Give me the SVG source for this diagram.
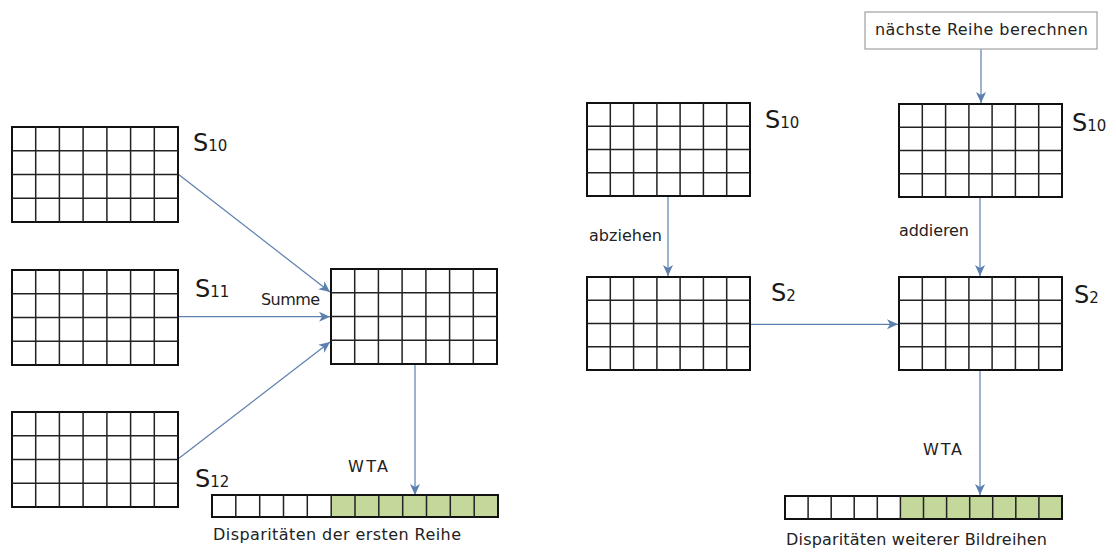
<svg xmlns="http://www.w3.org/2000/svg" xmlns:xlink="http://www.w3.org/1999/xlink" width="1116" height="552" viewBox="0 0 1116 552">
<style>
.t{font-family:"DejaVu Sans","Liberation Sans",sans-serif;font-size:16px;fill:#222}
.s{font-family:"DejaVu Sans","Liberation Sans",sans-serif;font-size:24px;fill:#1a1a1a}
.sub{font-size:15px}
.frame{fill:#fff;stroke:#111;stroke-width:2}
.in{stroke:#222;stroke-width:1.5;fill:none}
.con{stroke:#5b7fae;stroke-width:1.2;fill:none;marker-end:url(#ah)}
.green{fill:#c4d89c}
</style>
<defs>
<marker id="ah" markerUnits="userSpaceOnUse" markerWidth="12" markerHeight="12" viewBox="0 0 12 12" refX="11" refY="6" orient="auto">
<path d="M0,1 L11,6 L0,11 L3,6 Z" fill="#5b7fae"/>
</marker>
<g id="gridL">
<rect class="frame" x="0" y="0" width="166" height="95"/>
<path class="in" d="M23.7,0V95M47.4,0V95M71.1,0V95M94.9,0V95M118.6,0V95M142.3,0V95M0,23.75H166M0,47.5H166M0,71.25H166"/>
</g>
<g id="gridR">
<rect class="frame" x="0" y="0" width="163" height="93"/>
<path class="in" d="M23.3,0V93M46.6,0V93M69.9,0V93M93.1,0V93M116.4,0V93M139.7,0V93M0,23.25H163M0,46.5H163M0,69.75H163"/>
</g>
</defs>
<rect width="1116" height="552" fill="#fff"/>

<g id="connectors">
<line class="con" x1="178" y1="174" x2="330" y2="292"/>
<line class="con" x1="178" y1="316.7" x2="330" y2="316.7"/>
<line class="con" x1="178" y1="459" x2="330" y2="342"/>
<line class="con" x1="415" y1="365" x2="415" y2="495"/>
<line class="con" x1="981" y1="49" x2="981" y2="103"/>
<line class="con" x1="668" y1="196" x2="668" y2="276"/>
<line class="con" x1="980" y1="196" x2="980" y2="276"/>
<line class="con" x1="749" y1="324.3" x2="898" y2="324.3"/>
<line class="con" x1="980" y1="370" x2="980" y2="495"/>
</g>

<g id="s10-left">
<use xlink:href="#gridL" x="12" y="127"/>
<text class="s" x="193" y="151">S<tspan class="sub">10</tspan></text>
</g>
<g id="s11-left">
<use xlink:href="#gridL" x="12" y="270"/>
<text class="s" x="195" y="297">S<tspan class="sub">11</tspan></text>
</g>
<g id="s12-left">
<use xlink:href="#gridL" x="12" y="412"/>
<text class="s" x="195" y="487">S<tspan class="sub">12</tspan></text>
</g>
<g id="sum-grid">
<use xlink:href="#gridL" x="331" y="269"/>
<text class="t" x="261" y="305" textLength="59">Summe</text>
</g>
<g id="disp-first">
<rect class="green" x="331.2" y="495" width="166.8" height="22"/>
<rect x="212" y="495" width="286" height="22" fill="none" stroke="#111" stroke-width="2"/>
<path class="in" d="M235.8,495V517M259.7,495V517M283.5,495V517M307.3,495V517M331.2,495V517M355,495V517M378.8,495V517M402.7,495V517M426.5,495V517M450.3,495V517M474.2,495V517"/>
<text class="t" x="348" y="472" textLength="40">WTA</text>
<text class="t" x="213" y="540" textLength="248">Disparitäten der ersten Reihe</text>
</g>

<g id="next-row">
<rect x="865" y="12" width="232" height="37" fill="#fff" stroke="#a0a0a0" stroke-width="1.2"/>
<text class="t" x="875" y="35" textLength="213">nächste Reihe berechnen</text>
</g>
<g id="s10-mid">
<use xlink:href="#gridR" x="587" y="103"/>
<text class="s" x="765" y="128">S<tspan class="sub">10</tspan></text>
<text class="t" x="589" y="241" textLength="73">abziehen</text>
</g>
<g id="s2-mid">
<use xlink:href="#gridR" x="587" y="277"/>
<text class="s" x="771" y="301">S<tspan class="sub">2</tspan></text>
</g>
<g id="s10-right">
<use xlink:href="#gridR" x="899" y="104"/>
<text class="s" x="1072" y="131">S<tspan class="sub">10</tspan></text>
<text class="t" x="899" y="236" textLength="70">addieren</text>
</g>
<g id="s2-right">
<use xlink:href="#gridR" x="899" y="277"/>
<text class="s" x="1074" y="303">S<tspan class="sub">2</tspan></text>
</g>
<g id="disp-further">
<rect class="green" x="900.4" y="496" width="161.6" height="23"/>
<rect x="785" y="496" width="277" height="23" fill="none" stroke="#111" stroke-width="2"/>
<path class="in" d="M808.1,496V519M831.2,496V519M854.2,496V519M877.3,496V519M900.4,496V519M923.5,496V519M946.6,496V519M969.7,496V519M992.7,496V519M1015.8,496V519M1038.9,496V519"/>
<text class="t" x="923" y="455" textLength="39">WTA</text>
<text class="t" x="786" y="545" textLength="261">Disparitäten weiterer Bildreihen</text>
</g>
</svg>
